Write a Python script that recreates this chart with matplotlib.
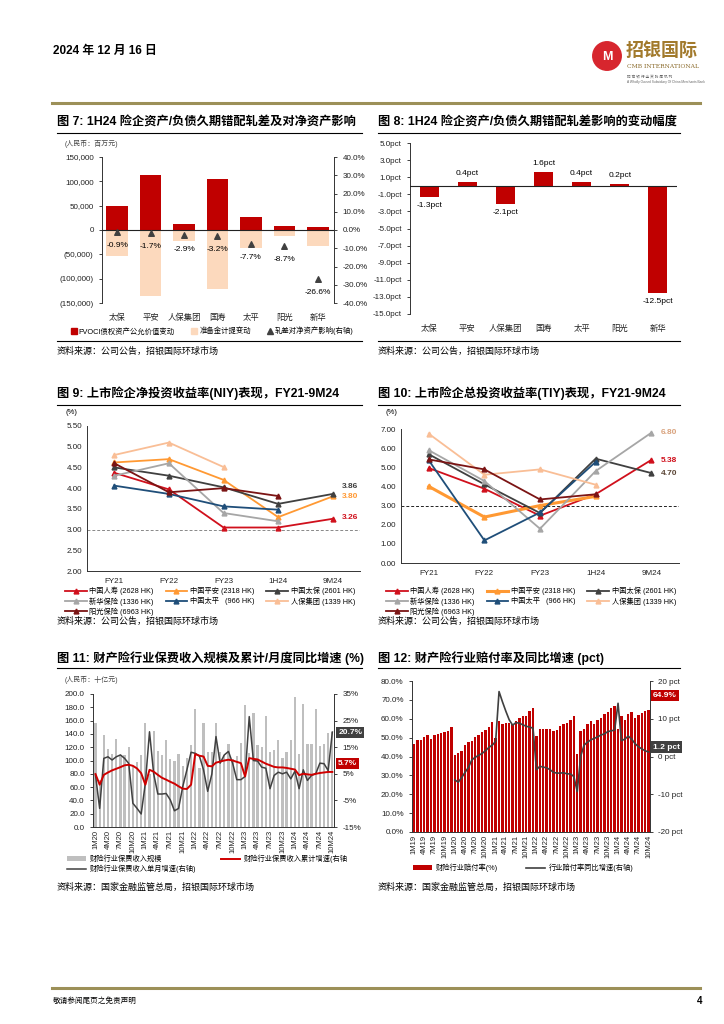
import matplotlib
matplotlib.use("Agg")
import matplotlib.pyplot as plt
from matplotlib.lines import Line2D
from matplotlib.patches import Circle, Patch
import numpy as np

plt.rcParams["font.family"] = ["Liberation Sans", "Noto Sans CJK SC"]
plt.rcParams["axes.unicode_minus"] = False

nan = np.nan

# ---------------- 图7 / 图8 data
companies = ["太保", "平安", "人保集团", "国寿", "太平", "阳光", "新华"]
fvoci_change = [50000, 113000, 12000, 104000, 27000, 8000, 7000]
reserve_change = [-53000, -135000, -23000, -121000, -37000, -13000, -32000]
net_asset_impact = [-0.9, -1.7, -2.9, -3.2, -7.7, -8.7, -26.6]
impact_change_pct = [-1.3, 0.4, -2.1, 1.6, 0.4, 0.2, -12.5]

# ---------------- 图9 / 图10 data
periods = ["FY21", "FY22", "FY23", "1H24", "9M24"]
insurer_names = ["中国人寿 (2628 HK)", "中国平安 (2318 HK)", "中国太保 (2601 HK)",
                 "新华保险 (1336 HK)", "中国太平   (966 HK)", "人保集团 (1339 HK)",
                 "阳光保险 (6963 HK)"]
insurer_colors = ["#D0101C", "#FF9933", "#404040", "#A6A6A6", "#1F4E79", "#F9BE96", "#7B1414"]

niy_china_life = [4.37, 3.97, 3.05, 3.05, 3.26]
niy_ping_an = [4.62, 4.70, 4.20, 3.30, 3.80]
niy_cpic = [4.50, 4.30, 4.02, 3.62, 3.86]
niy_nci = [4.30, 4.60, 3.40, 3.20, nan]
niy_taiping = [4.06, 3.86, 3.56, 3.48, nan]
niy_picc = [4.80, 5.10, 4.51, nan, nan]
niy_sunshine = [4.60, 3.90, 4.00, 3.81, nan]

tiy_china_life = [4.96, 3.88, 2.47, 3.59, 5.38]
tiy_ping_an = [4.00, 2.40, 3.00, 3.48, nan]
tiy_cpic = [5.68, 4.11, 2.61, 5.45, 4.70]
tiy_nci = [5.89, 4.28, 1.79, 4.80, 6.80]
tiy_taiping = [5.36, 1.18, 2.64, 5.28, nan]
tiy_picc = [6.75, 4.61, 4.89, 4.09, nan]
tiy_sunshine = [5.41, 4.89, 3.32, 3.59, nan]

# ---------------- 图11 data (1M20-10M24)
pc_month_labels = ["1M20", "4M20", "7M20", "10M20", "1M21", "4M21", "7M21", "10M21",
                   "1M22", "4M22", "7M22", "10M22", "1M23", "4M23", "7M23", "10M23",
                   "1M24", "4M24", "7M24", "10M24"]
pc_premium = [157, 70, 138, 118, 110, 133, 108, 108, 120, 92, 98, 108,
              157, 80, 144, 114, 108, 131, 103, 99, 110, 92, 104, 123,
              177, 88, 157, 113, 113, 156, 113, 108, 125, 102, 107, 127,
              183, 111, 172, 123, 120, 167, 113, 116, 131, 104, 113, 131,
              195, 110, 185, 125, 125, 177, 122, 125, 141, 143]
pc_premium_ytd_yoy = [4.9, 0.9, 4.6, 5.5, 6.3, 6.9, 7.5, 8.2, 8.4, 8.0, 7.0, 5.2,
                      0.9, 6.5, 5.8, 4.6, 3.5, 2.8, 2.0, 1.3, 0.3, -0.6, -0.7, 0.9,
                      12.4, 11.8, 11.5, 8.0, 7.8, 9.2, 9.6, 10.0, 10.3, 10.0, 9.5, 9.0,
                      4.0, 10.9, 10.6, 10.4, 9.6, 8.8, 8.2, 7.6, 7.4, 7.4, 7.2, 6.9,
                      6.6, 4.5, 5.0, 4.8, 4.6, 5.0, 5.3, 5.5, 5.7, 5.7]
pc_premium_month_yoy = [4.5, -8.0, 10.8, 11.4, 10.2, 11.4, 12.1, 10.8, 8.9, -6.1, -8.0, -10.1,
                        1.5, 20.8, 5.0, -2.6, -2.6, -2.4, -4.8, -8.9, -8.0, 0.2, 6.5, 13.1,
                        12.7, 11.7, 6.5, -1.6, 4.9, 19.0, 9.0, 12.1, 13.4, 9.0, 2.8, 2.8,
                        4.0, 26.5, 10.0, 9.8, 7.5, 7.1, -0.6, 4.4, 5.6, 5.0, 5.6, 3.1,
                        6.0, -0.6, 6.5, 2.5, 4.4, 5.0, 9.0, 8.8, 6.2, 20.7]

# ---------------- 图12 data (1M19-10M24)
loss_month_labels = ["1M19", "4M19", "7M19", "10M19", "1M20", "4M20", "7M20", "10M20",
                     "1M21", "4M21", "7M21", "10M21", "1M22", "4M22", "7M22", "10M22",
                     "1M23", "4M23", "7M23", "10M23", "1M24", "4M24", "7M24", "10M24"]
loss_ratio = [46.8, 48.7, 48.7, 50.2, 51.4, 49.3, 51.4, 51.9, 52.2, 53.1, 53.5, 55.8,
              40.8, 41.7, 42.9, 45.9, 47.7, 48.2, 50.2, 51.4, 53.1, 54.0, 55.5, 58.1,
              49.8, 58.7, 57.1, 58.0, 58.0, 57.4, 58.7, 60.6, 61.3, 61.7, 64.0, 65.9,
              50.7, 54.8, 54.8, 54.8, 54.8, 53.5, 54.2, 56.0, 57.1, 57.8, 59.2, 61.3,
              41.5, 53.5, 54.8, 57.1, 58.7, 57.1, 59.2, 60.6, 62.4, 63.4, 65.9, 67.0,
              54.8, 61.3, 59.2, 62.7, 63.6, 60.4, 62.0, 63.1, 64.0, 64.9]
# yoy change starts at 1M20
loss_ratio_yoy = [-6.2, -6.8, -5.6, -4.2, -2.9, -0.9, -0.2, 0.3, 0.8, 1.5, 2.4, 3.0,
                  4.0, 17.2, 14.5, 12.0, 9.7, 8.3, 9.0, 8.8, 8.4, 8.0, 7.8, 7.5,
                  -3.5, -2.6, -2.8, -3.0, -3.5, -4.2, -4.4, -4.4, -4.3, -4.6, -4.6, -5.3,
                  -9.3, 0.0, 3.0, 3.8, 4.4, 4.8, 5.2, 5.7, 6.0, 6.6, 6.8, 7.0,
                  14.1, 4.2, 4.6, 5.4, 4.6, 3.4, 2.6, 2.0, 1.5, 1.2]

W, H = 724, 1024
fig = plt.figure(figsize=(W / 100, H / 100), dpi=100)
RED = "#C00000"
TICK = 5.8
TITLE = 8.8


def box(x0, y0, x1, y1):
    return fig.add_axes([x0 / W, 1 - y1 / H, (x1 - x0) / W, (y1 - y0) / H])


def ftext(x, y, s, **kw):
    kw.setdefault("va", "center")
    fig.text(x / W, 1 - y / H, s, **kw)


def hline(x0, x1, y, color="black", lw=0.8):
    fig.add_artist(Line2D([x0 / W, x1 / W], [1 - y / H, 1 - y / H], color=color, lw=lw))


def fig_anchor(x, y):
    return (x / W, 1 - y / H)


def base_style(ax, keep=("left",)):
    for side in ("top", "bottom", "left", "right"):
        ax.spines[side].set_visible(side in keep)
        ax.spines[side].set_linewidth(0.7)
        ax.spines[side].set_color("#333333")
    ax.tick_params(labelsize=TICK, length=2.5, width=0.6, colors="#222222")
    ax.set_facecolor("none")


# ---------------- header / footer
ftext(53, 51, "2024 年 12 月 16 日", fontsize=8.5, fontweight="bold")
logo = box(592, 40, 622, 72)
logo.set_xlim(-1, 1)
logo.set_ylim(-1, 1)
logo.set_aspect("equal")
logo.axis("off")
logo.add_patch(Circle((0, 0), 0.95, color="#D7262E"))
logo.text(0, -0.05, "M", color="white", fontsize=9, fontweight="bold", ha="center", va="center")
ftext(626, 51, "招银国际", fontsize=13, fontweight="bold", color="#A27A2C")
ftext(627, 67, "CMB INTERNATIONAL", fontsize=4.3, color="#8A6A2A", family="DejaVu Serif")
ftext(627, 77, "招 商 银 行 全 资 附 属 机 构", fontsize=2.6, color="#666666")
ftext(627, 82, "A Wholly Owned Subsidiary Of China Merchants Bank", fontsize=2.3, color="#666666")
hline(52, 700, 103, color="#9C9058", lw=2.2)
hline(52, 700, 988, color="#9C9058", lw=2.2)
ftext(53, 1001, "敬请参阅尾页之免责声明", fontsize=5.5)
ftext(697, 1001, "4", fontsize=7, fontweight="bold")

# ---------------- titles and frame lines
ftext(57, 123, "图 7: 1H24 险企资产/负债久期错配轧差及对净资产影响", fontsize=TITLE, fontweight="bold")
ftext(378, 123, "图 8: 1H24 险企资产/负债久期错配轧差影响的变动幅度", fontsize=TITLE, fontweight="bold")
ftext(57, 393, "图 9: 上市险企净投资收益率(NIY)表现，FY21-9M24", fontsize=TITLE, fontweight="bold")
ftext(378, 393, "图 10: 上市险企总投资收益率(TIY)表现，FY21-9M24", fontsize=TITLE, fontweight="bold")
ftext(57, 658, "图 11: 财产险行业保费收入规模及累计/月度同比增速 (%)", fontsize=TITLE, fontweight="bold")
ftext(378, 658, "图 12: 财产险行业赔付率及同比增速 (pct)", fontsize=TITLE, fontweight="bold")
for y in (133, 405, 668):
    hline(57, 362, y)
    hline(378, 680, y)
hline(57, 362, 341)
hline(378, 680, 341)
src1 = "资料来源：公司公告，招银国际环球市场"
src2 = "资料来源：国家金融监管总局，招银国际环球市场"
ftext(57, 351, src1, fontsize=6.5)
ftext(378, 351, src1, fontsize=6.5)
ftext(57, 621, src1, fontsize=6.5)
ftext(378, 621, src1, fontsize=6.5)
ftext(57, 887, src2, fontsize=6.5)
ftext(378, 887, src2, fontsize=6.5)

# ---------------- 图7
x7 = np.arange(len(companies))
ax7 = box(102, 157, 334, 303)
base_style(ax7)
ax7.bar(x7, fvoci_change, width=0.65, color=RED, zorder=2)
ax7.bar(x7, reserve_change, width=0.65, color="#FCD9BD", zorder=2)
ax7.axhline(0, color="#222222", lw=0.8, zorder=3)
ax7.set_xlim(-0.45, 6.48)
ax7.set_ylim(-150000, 150000)
ax7.set_yticks(np.arange(-150000, 150001, 50000))
ax7.set_yticklabels([f"{v:,.0f}" if v >= 0 else f"({-v:,.0f})" for v in np.arange(-150000, 150001, 50000)])
ax7.set_xticks(x7)
ax7.set_xticklabels(companies, fontsize=6)
ax7.tick_params(axis="x", length=0, pad=8)
ax7r = ax7.twinx()
base_style(ax7r, keep=("right",))
ax7r.set_ylim(-40, 40)
ax7r.set_yticks(np.arange(-40, 41, 10))
ax7r.set_yticklabels([f"{v:.1f}%" for v in np.arange(-40, 41, 10)])
ax7r.scatter(x7, net_asset_impact, marker="^", s=16, color="#404040", zorder=5)
for xi, v in zip(x7, net_asset_impact):
    ax7r.annotate(f"{v}%", (xi, v), xytext=(0, -10), textcoords="offset points",
                  ha="center", va="center", fontsize=6)
ftext(65, 144, "(人民币：百万元)", fontsize=5, color="#444444")
ax7.legend(handles=[Patch(color=RED, label="FVOCI债权资产公允价值变动"),
                    Patch(color="#FCD9BD", label="准备金计提变动"),
                    Line2D([], [], ls="none", marker="^", color="#404040", ms=4,
                           label="轧差对净资产影响(右轴)")],
           loc="center left", bbox_to_anchor=fig_anchor(64, 331), bbox_transform=fig.transFigure,
           ncol=3, frameon=False, fontsize=5.3, handlelength=0.8, handleheight=0.8,
           handletextpad=0.3, columnspacing=2.2)

# ---------------- 图8
x8 = np.arange(len(companies))
ax8 = box(410, 143, 677, 314)
base_style(ax8)
ax8.bar(x8, impact_change_pct, width=0.5, color=RED, zorder=2)
ax8.axhline(0, color="#222222", lw=0.8, zorder=3)
ax8.set_xlim(-0.5, 6.5)
ax8.set_ylim(-15, 5)
ax8.set_yticks(np.arange(5, -16, -2))
ax8.set_yticklabels([f"{v:.1f}pct" for v in np.arange(5, -16, -2)])
ax8.set_xticks(x8)
ax8.set_xticklabels(companies, fontsize=6)
ax8.tick_params(axis="x", length=0, pad=8)
for xi, v in zip(x8, impact_change_pct):
    ax8.annotate(f"{v}pct", (xi, v), xytext=(0, 6.5 if v > 0 else -6.5), textcoords="offset points",
                 ha="center", va="center", fontsize=6)


# ---------------- 图9 / 图10
def yield_chart(ax, series, ylim, yticks, thick_idx=None):
    base_style(ax, keep=("left", "bottom"))
    xs = np.arange(len(periods))
    lines = []
    for i, (vals, col) in enumerate(zip(series, insurer_colors)):
        lw = 2.2 if i == thick_idx else 1.3
        ln, = ax.plot(xs, vals, color=col, lw=lw, marker="^", ms=3.5, label=insurer_names[i], zorder=3)
        lines.append(ln)
    ax.set_xlim(-0.5, 4.5)
    ax.set_ylim(*ylim)
    ax.set_yticks(yticks)
    ax.set_yticklabels([f"{v:.2f}" for v in yticks])
    ax.set_xticks(xs)
    ax.set_xticklabels(periods)
    ax.tick_params(axis="x", length=0, pad=5)
    ax.tick_params(axis="y", length=0)
    # legend filled row by row like the source (matplotlib fills columns)
    order = [0, 3, 6, 1, 4, 2, 5]
    return [lines[k] for k in order]


niy_series = [niy_china_life, niy_ping_an, niy_cpic, niy_nci, niy_taiping, niy_picc, niy_sunshine]
tiy_series = [tiy_china_life, tiy_ping_an, tiy_cpic, tiy_nci, tiy_taiping, tiy_picc, tiy_sunshine]

ax9 = box(87, 426, 360, 571)
h9 = yield_chart(ax9, niy_series, (2, 5.5), np.arange(2, 5.51, 0.5))
ax9.axhline(3.0, color="#888888", lw=0.7, ls=(0, (3, 2)), zorder=2)
ftext(66, 413, "(%)", fontsize=5.5)
for vals, col, dy in ((niy_cpic, "#404040", 0.18), (niy_ping_an, "#FF9933", 0.0), (niy_china_life, "#D0101C", 0.02)):
    ax9.text(4.17, vals[4] + dy, f"{vals[4]:.2f}", color=col, fontsize=6, fontweight="bold", va="center")
ax9.legend(handles=h9, loc="upper left", bbox_to_anchor=fig_anchor(62, 584), bbox_transform=fig.transFigure,
           ncol=3, frameon=False, fontsize=5.2, handlelength=3.0, handletextpad=0.4,
           columnspacing=1.6, labelspacing=0.25, borderaxespad=0)

ax10 = box(401, 429, 679, 563)
h10 = yield_chart(ax10, tiy_series, (0, 7), np.arange(0, 7.01, 1.0), thick_idx=1)
ax10.axhline(3.0, color="#222222", lw=0.7, ls=(0, (3, 2)), zorder=2)
ftext(386, 413, "(%)", fontsize=5.5)
for v, col in ((tiy_nci[4], "#D9A37E"), (tiy_china_life[4], "#D0101C"), (tiy_cpic[4], "#5B4636")):
    ax10.text(4.17, v, f"{v:.2f}", color=col, fontsize=6, fontweight="bold", va="center")
ax10.legend(handles=h10, loc="upper left", bbox_to_anchor=fig_anchor(383, 584), bbox_transform=fig.transFigure,
            ncol=3, frameon=False, fontsize=5.2, handlelength=3.0, handletextpad=0.4,
            columnspacing=1.6, labelspacing=0.25, borderaxespad=0)

# ---------------- 图11
x11 = np.arange(len(pc_premium))
ax11 = box(93, 694, 334, 827)
base_style(ax11, keep=("left", "bottom"))
bars11 = ax11.bar(x11, pc_premium, width=0.55, color="#BFBFBF", zorder=1,
                  label="财险行业保费收入规模")
ax11.set_xlim(-0.6, 57.4)
ax11.set_ylim(0, 200)
ax11.set_yticks(np.arange(0, 201, 20))
ax11.set_yticklabels([f"{v:.1f}" for v in np.arange(0, 201, 20)])
ax11.set_xticks(np.arange(0, 58, 3))
ax11.set_xticklabels(pc_month_labels, rotation=90, fontsize=5.5)
ax11.tick_params(axis="x", length=0, pad=2)
ax11r = ax11.twinx()
base_style(ax11r, keep=("right",))
ax11r.set_ylim(-15, 35)
ax11r.set_yticks(np.arange(-15, 36, 10))
ax11r.set_yticklabels([f"{v}%" for v in np.arange(-15, 36, 10)])
l_month, = ax11r.plot(x11, pc_premium_month_yoy, color="#404040", lw=1.1, zorder=3,
                      label="财险行业保费收入单月增速(右轴)")
l_ytd, = ax11r.plot(x11, pc_premium_ytd_yoy, color="#D00000", lw=1.4, zorder=4,
                    label="财险行业保费收入累计增速(右轴")
ax11r.annotate(f"{pc_premium_month_yoy[-1]}%", xy=(1.0, 20.5), xycoords=("axes fraction", "data"),
               xytext=(3, 0), textcoords="offset points", ha="left", va="center", fontsize=6,
               fontweight="bold", color="white",
               bbox=dict(boxstyle="square,pad=0.25", fc="#404040", ec="none"))
ax11r.annotate(f"{pc_premium_ytd_yoy[-1]}%", xy=(1.0, 9.0), xycoords=("axes fraction", "data"),
               xytext=(3, 0), textcoords="offset points", ha="left", va="center", fontsize=6,
               fontweight="bold", color="white",
               bbox=dict(boxstyle="square,pad=0.25", fc=RED, ec="none"))
ftext(65, 680, "(人民币：十亿元)", fontsize=5, color="#444444")
ax11.legend(handles=[bars11, l_month, l_ytd], loc="upper left",
            bbox_to_anchor=fig_anchor(64, 852), bbox_transform=fig.transFigure,
            ncol=2, frameon=False, fontsize=5.2, handlelength=2.6, handletextpad=0.5,
            columnspacing=3.5, labelspacing=0.2, borderaxespad=0)

# ---------------- 图12
x12 = np.arange(len(loss_ratio))
ax12 = box(412, 681, 650, 832)
base_style(ax12, keep=("left", "bottom"))
bars12 = ax12.bar(x12, loss_ratio, width=0.72, color=RED, zorder=1, label="财险行业赔付率(%)")
ax12.set_xlim(-0.6, 69.4)
ax12.set_ylim(0, 80)
ax12.set_yticks(np.arange(0, 81, 10))
ax12.set_yticklabels([f"{v:.1f}%" for v in np.arange(0, 81, 10)])
ax12.set_xticks(np.arange(0, 70, 3))
ax12.set_xticklabels(loss_month_labels, rotation=90, fontsize=5.5)
ax12.tick_params(axis="x", length=0, pad=2)
ax12r = ax12.twinx()
base_style(ax12r, keep=("right",))
ax12r.set_ylim(-20, 20)
ax12r.set_yticks(np.arange(-20, 21, 10))
ax12r.set_yticklabels([f"{v} pct" for v in np.arange(-20, 21, 10)])
l_yoy, = ax12r.plot(np.arange(12, 70), loss_ratio_yoy, color="#404040", lw=1.2, zorder=3,
                    label="行业赔付率同比增速(右轴)")
ax12r.annotate(f"{loss_ratio[-1]}%", xy=(1.0, 16.2), xycoords=("axes fraction", "data"),
               xytext=(2, 0), textcoords="offset points", ha="left", va="center", fontsize=6,
               fontweight="bold", color="white",
               bbox=dict(boxstyle="square,pad=0.25", fc=RED, ec="none"))
ax12r.annotate(f"{loss_ratio_yoy[-1]} pct", xy=(1.0, 2.5), xycoords=("axes fraction", "data"),
               xytext=(2, 0), textcoords="offset points", ha="left", va="center", fontsize=6,
               fontweight="bold", color="white",
               bbox=dict(boxstyle="square,pad=0.25", fc="#404040", ec="none"))
ax12.legend(handles=[bars12, l_yoy], loc="upper left",
            bbox_to_anchor=fig_anchor(410, 861), bbox_transform=fig.transFigure,
            ncol=2, frameon=False, fontsize=5.2, handlelength=2.6, handletextpad=0.5,
            columnspacing=4.0, borderaxespad=0)

fig.savefig("out.png", dpi=100)
